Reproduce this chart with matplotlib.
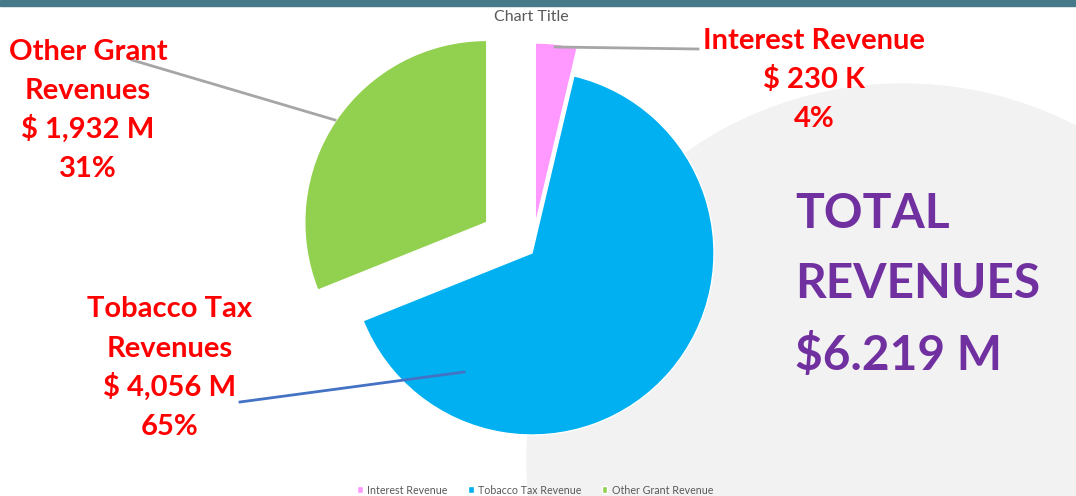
import matplotlib.pyplot as plt
from matplotlib.patches import Circle, Rectangle

# data
labels = ["Interest Revenue", "Tobacco Tax Revenue", "Other Grant Revenue"]
values = [230, 4056, 1932]
colors = ["#ff99ff", "#00b0f0", "#92d050"]
callouts = [
    ["Interest Revenue", "$ 230 K", "4%"],
    ["Tobacco Tax", "Revenues", "$ 4,056 M", "65%"],
    ["Other Grant", "Revenues", "$ 1,932 M", "31%"],
]
total_lines = ["TOTAL", "REVENUES", "$6.219 M"]

W, H = 1076, 496
fig = plt.figure(figsize=(W / 100, H / 100), dpi=100)
ax = fig.add_axes([0, 0, 1, 1])

def y(v):
    # image rows (from top) -> data y
    return H - v

# background decorations
ax.add_patch(Circle((903, y(460)), 376, color="#f2f2f2", zorder=0))
ax.add_patch(Rectangle((0, y(6)), W, 6, color="#467a8b", zorder=5))

R = 182
wedges, _ = ax.pie(values, colors=colors, startangle=90, counterclock=False,
                   explode=[0.155 * R, 0, 0.30 * R], center=(532, y(253)), radius=R,
                   wedgeprops=dict(edgecolor="white", linewidth=1))
ax.set_xlim(0, W)
ax.set_ylim(0, H)
ax.axis("off")

ax.text(531, y(21), "Chart Title", ha="center", va="baseline",
        fontsize=11.5, color="#595959", family="Lato")

# leader lines
ax.plot([555, 698], [y(47), y(49)], color="#a6a6a6", lw=2)
ax.plot([132, 335], [y(60), y(120)], color="#a6a6a6", lw=2)
ax.plot([240, 464], [y(402), y(372)], color="#4472c4", lw=2)

# callout labels
label_pos = [
    (814, [49, 88, 127]),
    (170, [317, 357, 396, 435]),
    (88, [60, 99, 138, 177]),
]
for lines, (cx, rows) in zip(callouts, label_pos):
    for txt, r in zip(lines, rows):
        ax.text(cx, y(r), txt, ha="center", va="baseline", fontsize=21,
                fontweight="bold", color="red", family="Lato")

for txt, r in zip(total_lines, [228, 298, 370]):
    ax.text(795, y(r), txt, ha="left", va="baseline", fontsize=34.5,
            fontweight="bold", color="#7030a0", family="Lato")

fig.legend(wedges, labels, loc="center", bbox_to_anchor=(535 / W, 6 / H),
           ncol=3, frameon=False, labelcolor="#595959",
           handlelength=0.55, handleheight=0.55, handletextpad=0.4,
           columnspacing=1.9, prop={"family": "Lato", "size": 7.7})

fig.savefig("out.png", dpi=100)
